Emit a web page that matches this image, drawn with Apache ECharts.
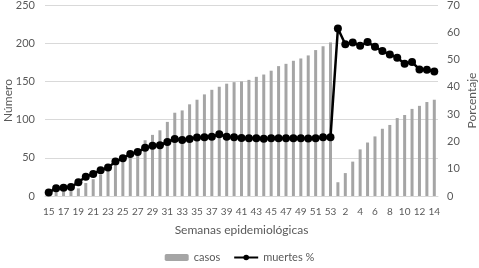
<!DOCTYPE html>
<html>
<head>
<meta charset="utf-8">
<script src="https://cdn.jsdelivr.net/npm/echarts@6/dist/echarts.min.js"></script>
<style>
  html, body { margin: 0; padding: 0; background: #fff; }
  #chart { width: 479px; height: 268px; }
</style>
</head>
<body>
<div id="chart"></div>
<script>
// semanas epidemiologicas: 15..53 y luego 1..14
const semanas = ['15','16','17','18','19','20','21','22','23','24','25','26','27','28','29','30',
  '31','32','33','34','35','36','37','38','39','40','41','42','43','44','45','46','47','48','49',
  '50','51','52','53','1','2','3','4','5','6','7','8','9','10','11','12','13','14']

const casos = [4, 6, 6, 7, 10, 17, 22, 28, 34, 40, 47, 52, 60, 73, 80, 86,
  97, 109, 112, 120, 126, 133, 139, 143, 147, 149, 150, 152, 156, 159, 164, 170, 173, 177, 180,
  184, 191, 196, 201, 18, 30, 45, 61, 70, 78, 88, 93, 102, 106, 114, 118, 123, 126]

const muertes = [1.3, 2.8, 3.0, 3.3, 5.0, 7.1, 8.1, 9.4, 10.4, 12.6, 13.8, 15.4, 16.1, 17.7, 18.4, 18.6,
  19.8, 20.9, 20.5, 20.9, 21.4, 21.5, 21.7, 22.6, 21.7, 21.5, 21.3, 21.2, 21.2, 21.0, 21.2, 21.2, 21.2, 21.2, 21.2,
  21.1, 21.2, 21.5, 21.5, 61.4, 55.6, 56.3, 55.1, 56.4, 54.7, 53.1, 51.9, 50.7, 48.5, 49.1, 46.4, 46.3, 45.6]

const txt = '#595959'
const fnt = 'Lato'

const chart = echarts.init(document.getElementById('chart'))
chart.setOption({
  animation: false,
  textStyle: { fontFamily: fnt, color: txt },
  grid: { left: 45, right: 41, top: 5, bottom: 72, outerBoundsMode: 'none', containLabel: false },
  legend: {
    bottom: 0,
    left: 'center',
    itemWidth: 24,
    itemHeight: 7,
    itemGap: 13,
    textStyle: { fontFamily: fnt, fontSize: 11, color: txt },
    data: ['casos', 'muertes %']
  },
  xAxis: {
    type: 'category',
    data: semanas,
    name: 'Semanas epidemiológicas',
    nameLocation: 'middle',
    nameGap: 28,
    nameMoveOverlap: false,
    nameTextStyle: { fontFamily: fnt, fontSize: 12, color: txt },
    axisLine: { lineStyle: { color: '#d9d9d9' } },
    axisTick: { show: false },
    axisLabel: { interval: 1, margin: 11, fontFamily: fnt, fontSize: 10, color: txt }
  },
  yAxis: [{
    type: 'value',
    min: 0,
    max: 250,
    interval: 50,
    name: 'Número',
    nameLocation: 'middle',
    nameGap: 37,
    nameRotate: 90,
    nameMoveOverlap: false,
    nameTextStyle: { fontFamily: fnt, fontSize: 12, color: txt, verticalAlign: 'middle' },
    axisLabel: { margin: 10, fontFamily: fnt, fontSize: 11, color: txt },
    splitLine: { lineStyle: { color: '#d9d9d9' } }
  }, {
    type: 'value',
    min: 0,
    max: 70,
    interval: 10,
    name: 'Porcentaje',
    nameLocation: 'middle',
    nameGap: 34,
    nameRotate: 90,
    nameMoveOverlap: false,
    nameTextStyle: { fontFamily: fnt, fontSize: 12, color: txt, verticalAlign: 'middle' },
    axisLabel: { margin: 9, fontFamily: fnt, fontSize: 11, color: txt },
    splitLine: { show: false }
  }],
  series: [{
    name: 'casos',
    type: 'bar',
    data: casos,
    barWidth: 3,
    itemStyle: { color: '#a5a5a5' }
  }, {
    name: 'muertes %',
    type: 'line',
    yAxisIndex: 1,
    data: muertes,
    symbol: 'circle',
    symbolSize: 8,
    showAllSymbol: true,
    lineStyle: { color: '#000', width: 2.5 },
    itemStyle: { color: '#000' }
  }]
})
</script>
</body>
</html>
